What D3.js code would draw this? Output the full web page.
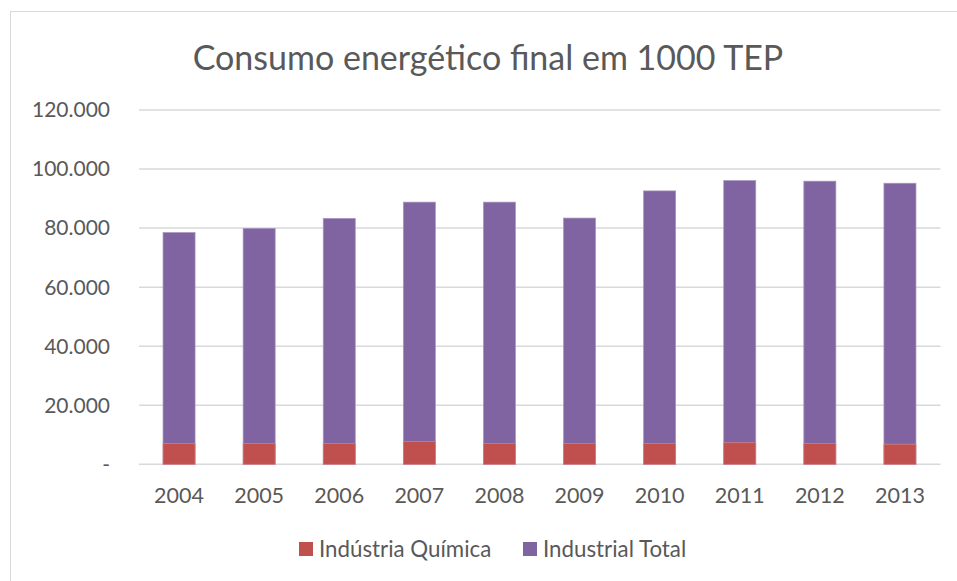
<!DOCTYPE html>
<meta charset="utf-8">
<style>
body { margin: 0; background: #fff; }
text { font-family: Lato, "Open Sans", sans-serif; fill: #595959; }
.grid line { stroke: #d9d9d9; stroke-width: 1.5px; }
</style>
<svg width="957" height="581"></svg>
<script src="https://cdn.jsdelivr.net/npm/d3@7"></script>
<script>

var years = ["2004", "2005", "2006", "2007", "2008", "2009", "2010", "2011", "2012", "2013"];
var industrialTotal = [78500, 79900, 83300, 88800, 88800, 83400, 92600, 96100, 95900, 95200];
var industriaQuimica = [7100, 7100, 7100, 7700, 7100, 7100, 7100, 7300, 7100, 6800];
var yTicks = [0, 20000, 40000, 60000, 80000, 100000, 120000];

var svg = d3.select("svg");

// chart border
svg.append("rect")
    .attr("x", 10.5).attr("y", 11.5)
    .attr("width", 960).attr("height", 600)
    .attr("fill", "none").attr("stroke", "#d9d9d9");

var x = d3.scaleBand().domain(years).range([139, 940]).paddingInner(0.6).paddingOuter(0.3);
var y = d3.scaleLinear().domain([0, 120000]).range([464.3, 110]);

var fmt = function(d) { return d === 0 ? "-" : d3.format(",")(d).replace(/,/g, "."); };

var grid = svg.append("g").attr("class", "grid");
grid.selectAll("line")
  .data(yTicks)
  .enter().append("line")
    .attr("x1", 139).attr("x2", 940.5)
    .attr("y1", function(d) { return y(d); })
    .attr("y2", function(d) { return y(d); });

svg.append("g").selectAll("text")
  .data(yTicks)
  .enter().append("text")
    .attr("x", 110)
    .attr("y", function(d) { return y(d); })
    .attr("dy", "0.35em")
    .attr("text-anchor", "end")
    .style("font-size", "21px")
    .text(fmt);

// Industrial Total bars, Indústria Química drawn over them
svg.append("g").selectAll("rect")
  .data(industrialTotal)
  .enter().append("rect")
    .attr("x", function(d, i) { return x(years[i]); })
    .attr("width", x.bandwidth())
    .attr("y", function(d) { return y(d); })
    .attr("height", function(d) { return y(0) - y(d); })
    .attr("fill", "#8064a2")
    .attr("stroke", "#a995c0").attr("stroke-width", 0.7);

svg.append("g").selectAll("rect")
  .data(industriaQuimica)
  .enter().append("rect")
    .attr("x", function(d, i) { return x(years[i]); })
    .attr("width", x.bandwidth())
    .attr("y", function(d) { return y(d); })
    .attr("height", function(d) { return y(0) - y(d); })
    .attr("fill", "#c0504d")
    .attr("stroke", "#d98482").attr("stroke-width", 0.7);

svg.append("g").selectAll("text")
  .data(years)
  .enter().append("text")
    .attr("x", function(d) { return x(d) + x.bandwidth() / 2; })
    .attr("y", 503)
    .attr("text-anchor", "middle")
    .style("font-size", "21.5px")
    .text(function(d) { return d; });

svg.append("text")
    .attr("x", 488).attr("y", 70)
    .attr("text-anchor", "middle")
    .style("font-size", "34px")
    .text("Consumo energético final em 1000 TEP");

var legend = [
  { name: "Indústria Química", color: "#c0504d", x: 299 },
  { name: "Industrial Total", color: "#8064a2", x: 523 }
];
var lg = svg.append("g").selectAll("g")
  .data(legend)
  .enter().append("g")
    .attr("transform", function(d) { return "translate(" + d.x + ",542)"; });
lg.append("rect").attr("width", 14).attr("height", 14).attr("fill", function(d) { return d.color; });
lg.append("text").attr("x", 20).attr("y", 14.5).style("font-size", "22.3px").text(function(d) { return d.name; });

</script>
